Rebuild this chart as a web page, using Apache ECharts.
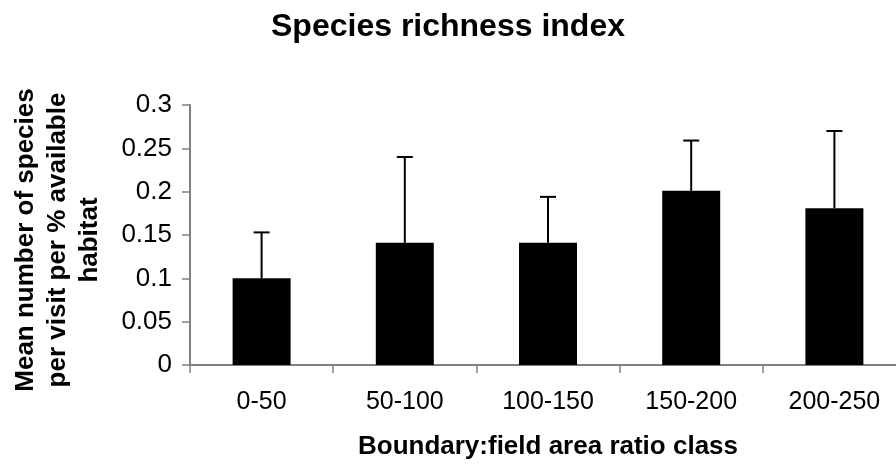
<!DOCTYPE html>
<html>
<head>
<meta charset="utf-8">
<script src="https://cdn.jsdelivr.net/npm/echarts@6/dist/echarts.min.js"></script>
<style>
html, body { margin: 0; padding: 0; background: #fff; }
#chart { width: 896px; height: 467px; }
</style>
</head>
<body>
<div id="chart"></div>
<script>
// Data
const categories = ['0-50', '50-100', '100-150', '150-200', '200-250'];
const means = [0.100, 0.141, 0.141, 0.201, 0.181];
const upperErrors = [0.053, 0.099, 0.053, 0.058, 0.089];
const yTicks = { min: 0, max: 0.3, interval: 0.05 };

const errorData = categories.map(function (c, i) {
  return [i, means[i], means[i] + upperErrors[i]];
});

const FONT = '"Liberation Sans", Arial, sans-serif';
const chart = echarts.init(document.getElementById('chart'), null, { renderer: 'canvas' });

chart.setOption({
  animation: false,
  backgroundColor: '#ffffff',
  title: {
    text: 'Species richness index',
    left: 'center',
    top: 6,
    textStyle: { fontFamily: FONT, fontSize: 32, fontWeight: 'bold', color: '#000' }
  },
  grid: {
    left: 190,
    top: 105,
    bottom: 102,
    right: -10,
    containLabel: false,
    outerBoundsMode: 'none'
  },
  xAxis: {
    type: 'category',
    data: categories,
    boundaryGap: true,
    name: 'Boundary:field area ratio class',
    nameLocation: 'middle',
    nameGap: 69,
    nameTextStyle: { fontFamily: FONT, fontSize: 26, fontWeight: 'bold', color: '#000' },
    axisLine: { show: true, lineStyle: { color: '#808080', width: 2 } },
    axisTick: { show: true, alignWithLabel: false, length: 8, lineStyle: { color: '#808080', width: 1.5 } },
    axisLabel: { fontFamily: FONT, fontSize: 25, color: '#000', margin: 25, interval: 0 },
    splitLine: { show: false }
  },
  yAxis: {
    type: 'value',
    min: yTicks.min,
    max: yTicks.max,
    interval: yTicks.interval,
    name: 'Mean number of species\nper visit per % available\nhabitat',
    nameLocation: 'middle',
    nameGap: 84,
    nameTextStyle: { fontFamily: FONT, fontSize: 26, fontWeight: 'bold', color: '#000', lineHeight: 32, align: 'center', padding: [0, 10, 0, 0] },
    axisLine: { show: true, lineStyle: { color: '#808080', width: 2 } },
    axisTick: { show: true, inside: false, length: 8, lineStyle: { color: '#808080', width: 1.5 } },
    axisLabel: { fontFamily: FONT, fontSize: 26, color: '#000', margin: 18 },
    splitLine: { show: false }
  },
  series: [
    {
      type: 'bar',
      data: means,
      barWidth: 58,
      itemStyle: { color: '#000000' },
      z: 2
    },
    {
      type: 'custom',
      data: errorData,
      z: 3,
      renderItem: function (params, api) {
        const x = api.value(0);
        const p0 = api.coord([x, api.value(1)]);
        const p1 = api.coord([x, api.value(2)]);
        const half = 8;
        return {
          type: 'group',
          children: [
            { type: 'line', shape: { x1: p0[0], y1: p0[1], x2: p1[0], y2: p1[1] }, style: { stroke: '#000', lineWidth: 2 } },
            { type: 'line', shape: { x1: p1[0] - half, y1: p1[1], x2: p1[0] + half, y2: p1[1] }, style: { stroke: '#000', lineWidth: 2 } }
          ]
        };
      }
    }
  ]
});
</script>
</body>
</html>
